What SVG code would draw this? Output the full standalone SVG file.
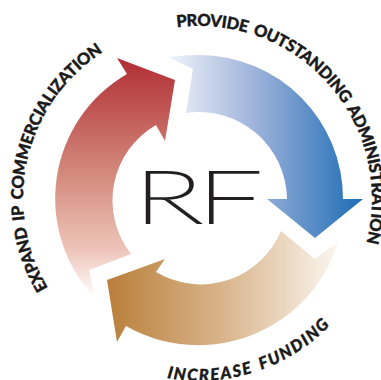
<svg xmlns="http://www.w3.org/2000/svg" width="381" height="380" viewBox="0 0 381 380">
<style>
.l{font-family:Lato,sans-serif;font-weight:900;font-size:16.5px;word-spacing:2.5px;fill:#1a1a1a;stroke:#1a1a1a;stroke-width:.4px}
</style>
<defs>
<linearGradient id="gb" gradientUnits="userSpaceOnUse" x1="168" y1="0" x2="363" y2="0"><stop offset="0" stop-color="#f0f3fa"/><stop offset=".45" stop-color="#9db2da"/><stop offset="1" stop-color="#1c6cb5"/></linearGradient>
<linearGradient id="gr" gradientUnits="userSpaceOnUse" x1="0" y1="60" x2="0" y2="298"><stop offset="0" stop-color="#b12f35"/><stop offset=".5" stop-color="#d58e80"/><stop offset=".8" stop-color="#eec5ba"/><stop offset="1" stop-color="#ffffff"/></linearGradient>
<linearGradient id="gt" gradientUnits="userSpaceOnUse" x1="107" y1="0" x2="338" y2="0"><stop offset="0" stop-color="#b97f3a"/><stop offset=".5" stop-color="#d9b48c"/><stop offset="1" stop-color="#fbf6ef"/></linearGradient>
<path id="p1" d="M177 27.4A173 173 0 0 1 331.5 310.2"/>
<path id="p2" d="M48 288A174 174 0 0 1 258.5 35.5"/>
<path id="p3" d="M167 378A182 182 0 0 0 381 199"/>
</defs>
<rect width="381" height="380" fill="#fff"/>
<g id="connectors">
<path id="arrow-blue" fill="url(#gb)" d="M168 57Q184 55 200 55A144 144 0 0 1 343 199H363L315 238L267 199H287A88 88 0 0 0 186 113L193 69Z"/>
<path id="arrow-red" fill="url(#gr)" d="M117 58L175 80L165 141L156 125A87 87 0 0 0 131 254L89 270L95 298A144 144 0 0 1 127 74Z"/>
<path id="arrow-tan" fill="url(#gt)" d="M281 231L315 259L338 242A146 146 0 0 1 126 326L117 342L107 280L165 259L156 272A87 87 0 0 0 281 231Z"/>
</g>
<g id="center"><text transform="translate(134 223) scale(1.6 1)" font-family="Lato,sans-serif" font-weight="100" font-size="72" letter-spacing="-3" fill="#231f20" stroke="#231f20" stroke-width="2">RF</text></g>
<g id="label-admin"><text class="l"><textPath href="#p1" textLength="338" lengthAdjust="spacing">PROVIDE OUTSTANDING ADMINISTRATION</textPath></text></g>
<g id="label-expand"><text class="l"><textPath href="#p2" textLength="268" lengthAdjust="spacing">EXPAND IP COMMERCIALIZATION</textPath></text></g>
<g id="label-funding"><text class="l" style="font-style:italic"><textPath href="#p3" textLength="178" lengthAdjust="spacing">INCREASE FUNDING</textPath></text></g>
</svg>
